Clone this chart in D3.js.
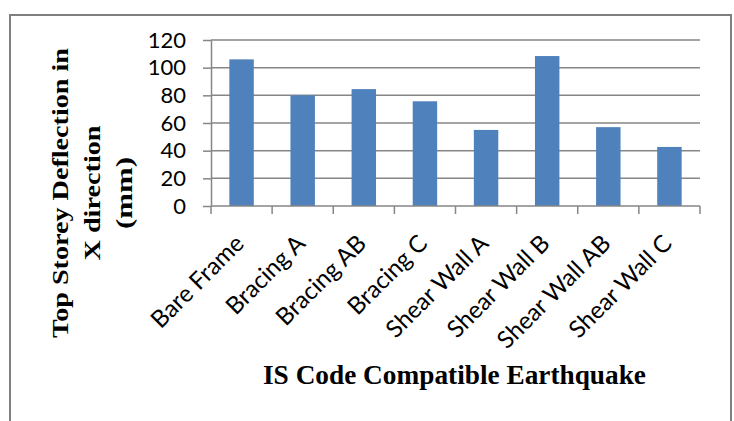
<!DOCTYPE html>
<html>
<head>
<meta charset="utf-8">
<script src="https://cdn.jsdelivr.net/npm/d3@7"></script>
<style>
  html, body { margin: 0; padding: 0; background: #fff; }
  svg { display: block; }
</style>
</head>
<body>
<svg id="chart" width="734" height="421"></svg>
<script>
// Top storey deflection (mm) per structural system
const categories = ["Bare Frame", "Bracing A", "Bracing AB", "Bracing C",
                    "Shear Wall A", "Shear Wall B", "Shear Wall AB", "Shear Wall C"];
const deflection = [106, 80, 84.5, 75.7, 55, 108.4, 57, 42.7];
const yTicks = [0, 20, 40, 60, 80, 100, 120];
const yTitleLines = ["Top Storey Deflection in", "X direction", "(mm)"];
const xTitle = "IS Code Compatible Earthquake";

const svg = d3.select("#chart");
const plot = { left: 211, right: 700, top: 40, bottom: 206 };
const axisColor = "#868686";
const sans = "Lato, 'Open Sans', sans-serif";
const serif = "'Liberation Serif', 'DejaVu Serif', serif";

// outer frame
svg.append("rect")
  .attr("x", 10).attr("y", 15)
  .attr("width", 721).attr("height", 420)
  .attr("fill", "none").attr("stroke", "#7f7f7f").attr("stroke-width", 2);

const x = d3.scaleBand().domain(categories)
  .range([plot.left, plot.right]).paddingInner(0.6).paddingOuter(0.3);
const y = d3.scaleLinear().domain([0, 120]).range([plot.bottom, plot.top]);

// horizontal gridlines
svg.append("g").selectAll("line").data(yTicks.filter(t => t > 0)).join("line")
  .attr("x1", plot.left).attr("x2", plot.right)
  .attr("y1", d => y(d)).attr("y2", d => y(d))
  .attr("stroke", axisColor).attr("stroke-width", 1.5);

// bars
svg.append("g").selectAll("rect").data(categories).join("rect")
  .attr("x", d => x(d))
  .attr("width", x.bandwidth())
  .attr("y", (d, i) => y(deflection[i]))
  .attr("height", (d, i) => y(0) - y(deflection[i]))
  .attr("fill", "#4f81bd");

// y axis
const yAxis = svg.append("g")
  .attr("transform", `translate(${plot.left},0)`)
  .call(d3.axisLeft(y).tickValues(yTicks).tickSize(8).tickPadding(17).tickSizeOuter(0));
yAxis.select(".domain").attr("stroke", axisColor).attr("stroke-width", 1.5);
yAxis.selectAll(".tick line").attr("stroke", axisColor).attr("stroke-width", 1.5);
yAxis.selectAll(".tick text")
  .attr("font-family", sans)
  .attr("font-size", 22).attr("fill", "#000");

// x axis: ticks at category boundaries
const bounds = d3.range(categories.length + 1)
  .map(i => plot.left + i * (plot.right - plot.left) / categories.length);
const xAxisG = svg.append("g");
xAxisG.append("line")
  .attr("x1", plot.left).attr("x2", plot.right)
  .attr("y1", plot.bottom).attr("y2", plot.bottom)
  .attr("stroke", axisColor).attr("stroke-width", 1.5);
xAxisG.selectAll("line.tk").data(bounds).join("line").attr("class", "tk")
  .attr("x1", d => d).attr("x2", d => d)
  .attr("y1", plot.bottom).attr("y2", plot.bottom + 8)
  .attr("stroke", axisColor).attr("stroke-width", 1.5);

// rotated category labels
svg.append("g").selectAll("text").data(categories).join("text")
  .attr("transform", d => `translate(${x(d) + x.bandwidth() / 2 - 2},${plot.bottom + 33}) rotate(-45)`)
  .attr("text-anchor", "end")
  .attr("dy", "0.35em")
  .attr("font-family", sans)
  .attr("font-size", 24).attr("fill", "#000")
  .text(d => d);

// y-axis title (three lines, wide bold serif)
const yTitleLen = [290, 135, 72];
const yTitle = svg.append("text")
  .attr("transform", "translate(0,193) rotate(-90)")
  .attr("text-anchor", "middle")
  .attr("font-family", serif)
  .attr("font-weight", "bold").attr("font-size", 23).attr("fill", "#000");
yTitleLines.forEach((t, i) => {
  yTitle.append("tspan")
    .attr("x", 0).attr("y", 68 + i * 32)
    .attr("textLength", yTitleLen[i])
    .attr("lengthAdjust", "spacingAndGlyphs")
    .text(t);
});

// x-axis title
svg.append("text")
  .attr("x", 454.5).attr("y", 384)
  .attr("text-anchor", "middle")
  .attr("font-family", serif)
  .attr("font-weight", "bold").attr("font-size", 28).attr("fill", "#000")
  .attr("textLength", 383).attr("lengthAdjust", "spacingAndGlyphs")
  .text(xTitle);
</script>
</body>
</html>
